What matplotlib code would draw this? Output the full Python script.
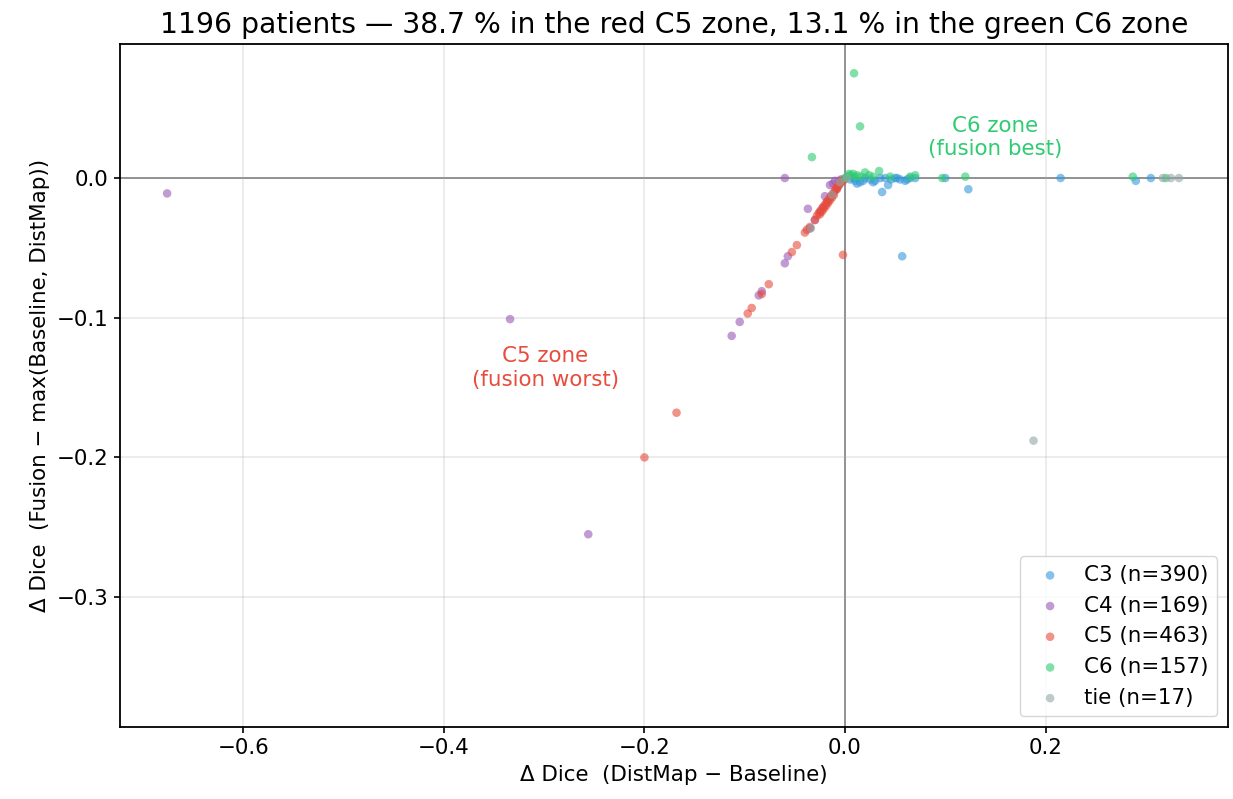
import matplotlib.pyplot as plt
import numpy as np

# Visible points (dense cluster near the origin approximated)
c3_x = [0.057, 0.215, 0.290, 0.305, 0.123, 0.037, 0.043, 0.005, 0.010, 0.015, 0.020,
        0.025, 0.030, 0.035, 0.040, 0.046, 0.050, 0.055, 0.060, 0.065, 0.070, 0.100,
        0.012, 0.028, 0.052, 0.062, 0.008, 0.018]
c3_y = [-0.056, 0.000, -0.002, 0.000, -0.008, -0.010, -0.005, -0.001, -0.002, -0.003,
        0.000, -0.001, -0.002, 0.000, 0.000, -0.001, 0.000, -0.001, -0.002, 0.000, 0.000,
        0.000, -0.004, -0.003, 0.000, -0.001, 0.000, -0.002]

c4_x = [-0.676, -0.334, -0.256, -0.060, -0.113, -0.105, -0.086, -0.083, -0.060, -0.057,
        -0.037, -0.035, -0.030, -0.025, -0.020, -0.015, -0.012, -0.010, -0.008, -0.006,
        -0.004, -0.018, -0.014, -0.022]
c4_y = [-0.011, -0.101, -0.255, 0.000, -0.113, -0.103, -0.084, -0.081, -0.061, -0.056,
        -0.022, -0.036, -0.030, -0.024, -0.013, -0.005, -0.004, -0.002, -0.008, -0.002,
        -0.001, -0.017, -0.013, -0.021]

c5_x = [-0.200, -0.168, -0.097, -0.093, -0.083, -0.076, -0.053, -0.048, -0.040, -0.038,
        -0.035, -0.002, -0.030, -0.028, -0.026, -0.024, -0.022, -0.020, -0.018, -0.016,
        -0.014, -0.012, -0.010, -0.009, -0.008, -0.007, -0.006, -0.005, -0.004, -0.003,
        -0.002, -0.001, -0.011, -0.013, -0.015, -0.017, -0.019, -0.021, -0.023, -0.025]
c5_y = [-0.200, -0.168, -0.097, -0.093, -0.083, -0.076, -0.053, -0.048, -0.039, -0.037,
        -0.035, -0.055, -0.030, -0.027, -0.025, -0.023, -0.021, -0.019, -0.017, -0.015,
        -0.013, -0.011, -0.009, -0.008, -0.007, -0.006, -0.005, -0.004, -0.003, -0.002,
        -0.002, -0.001, -0.012, -0.014, -0.016, -0.018, -0.020, -0.022, -0.024, -0.026]

c6_x = [0.009, 0.015, -0.033, 0.097, 0.120, 0.287, 0.320, 0.034, 0.020, 0.065, 0.070,
        0.002, 0.005, 0.008, 0.012, 0.016, 0.024, 0.028, 0.004, 0.010, 0.000, 0.045]
c6_y = [0.075, 0.037, 0.015, 0.000, 0.001, 0.001, 0.000, 0.005, 0.004, 0.001, 0.002,
        0.001, 0.002, 0.003, 0.002, 0.001, 0.002, 0.001, 0.003, 0.001, 0.000, 0.001]

tie_x = [0.188, 0.317, 0.333, 0.325, -0.034, -0.013, -0.005, 0.002]
tie_y = [-0.188, 0.000, 0.000, 0.000, -0.036, -0.012, -0.003, 0.000]

labels = ["C3 (n=390)", "C4 (n=169)", "C5 (n=463)", "C6 (n=157)", "tie (n=17)"]
colors = ["#3498db", "#9b59b6", "#e74c3c", "#2ecc71", "#95a5a6"]

fig = plt.figure(figsize=(12.33, 7.99), dpi=100)
ax = fig.add_axes([0.0973, 0.0901, 0.8987, 0.8549])

series = [(c3_x, c3_y), (c4_x, c4_y), (c5_x, c5_y), (c6_x, c6_y), (tie_x, tie_y)]
for (xs, ys), lab, col in zip(series, labels, colors):
    ax.scatter(xs, ys, s=38, color=col, alpha=0.6, edgecolors='none', label=lab)

ax.axhline(0, color='gray', lw=1.3, zorder=0)
ax.axvline(0, color='gray', lw=1.3, zorder=0)
ax.grid(True, alpha=0.3, lw=1.1, zorder=-1)
ax.set_axisbelow(True)

ax.set_xlim(-0.723, 0.382)
ax.set_ylim(-0.393, 0.096)
ax.set_xticks([-0.6, -0.4, -0.2, 0.0, 0.2])
ax.set_yticks([-0.3, -0.2, -0.1, 0.0])
ax.tick_params(labelsize=15.4, width=1.2, length=4.5)
for sp in ax.spines.values():
    sp.set_linewidth(1.3)

ax.text(0.150, 0.029, "C6 zone\n(fusion best)", color="#2ecc71", fontsize=15.4,
        ha='center', va='center')
ax.text(-0.299, -0.136, "C5 zone\n(fusion worst)", color="#e74c3c", fontsize=15.4,
        ha='center', va='center')

ax.set_xlabel("Δ Dice  (DistMap − Baseline)", fontsize=15.4, labelpad=5)
ax.set_ylabel("Δ Dice  (Fusion − max(Baseline, DistMap))", fontsize=15.4, labelpad=5)
ax.set_title("1196 patients — 38.7 % in the red C5 zone, 13.1 % in the green C6 zone",
             fontsize=20.3, pad=8)

ax.legend(loc='lower right', fontsize=15.4, handletextpad=0.6)

fig.savefig("out.png", dpi=100)
